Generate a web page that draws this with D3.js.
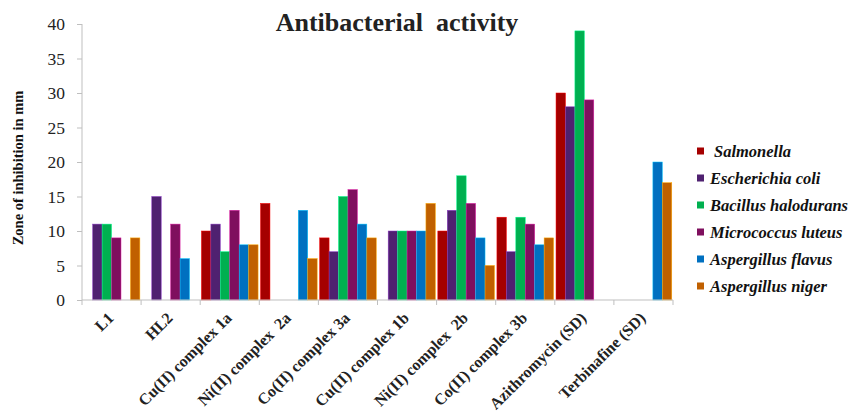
<!DOCTYPE html>
<html>
<head>
<meta charset="utf-8">
<script src="https://cdn.jsdelivr.net/npm/d3@7"></script>
<style>
  html, body { margin: 0; padding: 0; background: #fff; }
  svg { display: block; }
  text { font-family: "Liberation Serif", "Times New Roman", serif; }
</style>
</head>
<body>
<svg id="chart" width="854" height="416"></svg>
<script>
// Compounds tested
const categories = [
  "L1", "HL2", "Cu(II) complex 1a", "Ni(II) complex  2a", "Co(II) complex 3a",
  "Cu(II) complex 1b", "Ni(II) complex  2b", "Co(II) complex 3b",
  "Azithromycin (SD)", "Terbinafine (SD)"
];

// Organisms (series)
const seriesNames = [
  "Salmonella", "Escherichia coli", "Bacillus halodurans",
  "Micrococcus luteus", "Aspergillus flavus", "Aspergillus niger"
];

// Zone of inhibition (mm), one array per organism, aligned with categories
const salmonella  = [0, 0, 10, 14, 9, 0, 10, 12, 30, 0];
const ecoli       = [11, 15, 11, 0, 7, 10, 13, 7, 28, 0];
const bacillus    = [11, 0, 7, 0, 15, 10, 18, 12, 39, 0];
const micrococcus = [9, 11, 13, 0, 16, 10, 14, 11, 29, 0];
const aflavus     = [0, 6, 8, 13, 11, 10, 9, 8, 0, 20];
const aniger      = [9, 0, 8, 6, 9, 14, 5, 9, 0, 17];

const seriesValues = [salmonella, ecoli, bacillus, micrococcus, aflavus, aniger];
const colors = ["#A50000", "#4F2170", "#00B050", "#7F0F5E", "#0070C0", "#C06000"];

const yTicks = [0, 5, 10, 15, 20, 25, 30, 35, 40];

const svg = d3.select("#chart");

const plot = { left: 82, right: 673, top: 24, bottom: 300 };

const x0 = d3.scaleBand()
  .domain(categories)
  .range([plot.left, plot.right])
  .paddingInner(0)
  .paddingOuter(0);

const x1 = d3.scaleBand()
  .domain(d3.range(seriesNames.length))
  .range([0, x0.bandwidth()])
  .paddingOuter(0.13)
  .paddingInner(0);

const y = d3.scaleLinear().domain([0, 40]).range([plot.bottom, plot.top]);

// Bars
const groups = svg.append("g")
  .selectAll("g")
  .data(categories)
  .join("g")
  .attr("transform", d => `translate(${x0(d)},0)`);

groups.selectAll("rect")
  .data((c, ci) => seriesValues.map((vals, si) => ({ si, v: vals[ci] })).filter(d => d.v > 0))
  .join("rect")
  .attr("x", d => x1(d.si))
  .attr("width", x1.bandwidth())
  .attr("y", d => y(d.v))
  .attr("height", d => y(0) - y(d.v))
  .attr("fill", d => colors[d.si])
  .attr("stroke", d => d3.color(colors[d.si]).brighter(1.6))
  .attr("stroke-width", 0.5);

// Y axis
const yAxis = d3.axisLeft(y).tickValues(yTicks).tickSize(5).tickPadding(12);
const gy = svg.append("g").attr("transform", `translate(${plot.left},0)`).call(yAxis);
gy.attr("font-family", null);
gy.select(".domain").attr("stroke", "#bfbfbf").attr("d", `M0,${plot.top}V${plot.bottom}`);
gy.selectAll(".tick line").attr("stroke", "#bfbfbf");
gy.selectAll(".tick text")
  .attr("fill", "#222")
  .attr("dy", "0.34em")
  .style("font-size", "17.5px");

// X axis with ticks at category boundaries
const gx = svg.append("g").attr("transform", `translate(0,${plot.bottom})`);
gx.append("line")
  .attr("x1", plot.left).attr("x2", plot.right)
  .attr("stroke", "#bfbfbf");
const boundaries = categories.map(c => x0(c)).concat([plot.right]);
gx.selectAll("line.tk")
  .data(boundaries)
  .join("line")
  .attr("class", "tk")
  .attr("x1", d => d).attr("x2", d => d)
  .attr("y1", 0).attr("y2", 5)
  .attr("stroke", "#bfbfbf");

gx.selectAll("text.cat")
  .data(categories)
  .join("text")
  .attr("class", "cat")
  .attr("transform", d => `translate(${x0(d) + x0.bandwidth() / 2 + 3},${19}) rotate(-45)`)
  .attr("text-anchor", "end")
  .attr("fill", "#222")
  .style("font-size", "16px")
  .style("font-weight", "bold")
  .style("white-space", "pre")
  .text(d => d);

// Title
svg.append("text")
  .attr("x", 397).attr("y", 31)
  .attr("text-anchor", "middle")
  .attr("fill", "#222")
  .style("font-size", "26px")
  .style("font-weight", "bold")
  .style("white-space", "pre")
  .text("Antibacterial  activity");

// Y axis title
svg.append("text")
  .attr("transform", `translate(23,${168}) rotate(-90)`)
  .attr("text-anchor", "middle")
  .attr("fill", "#111")
  .style("font-size", "14.5px")
  .style("font-weight", "bold")
  .text("Zone of inhibition in mm");

// Legend
const legend = svg.append("g").attr("transform", "translate(697,151)");
const items = legend.selectAll("g")
  .data(seriesNames)
  .join("g")
  .attr("transform", (d, i) => `translate(0,${i * 27})`);
items.append("rect")
  .attr("x", 0).attr("y", -3.5)
  .attr("width", 7).attr("height", 7)
  .attr("fill", (d, i) => colors[i]);
items.append("text")
  .attr("x", (d, i) => i === 0 ? 17 : 13)
  .attr("y", 5.5)
  .attr("fill", "#111")
  .style("font-size", "16.5px")
  .style("font-weight", "bold")
  .style("font-style", "italic")
  .text(d => d);
</script>
</body>
</html>
